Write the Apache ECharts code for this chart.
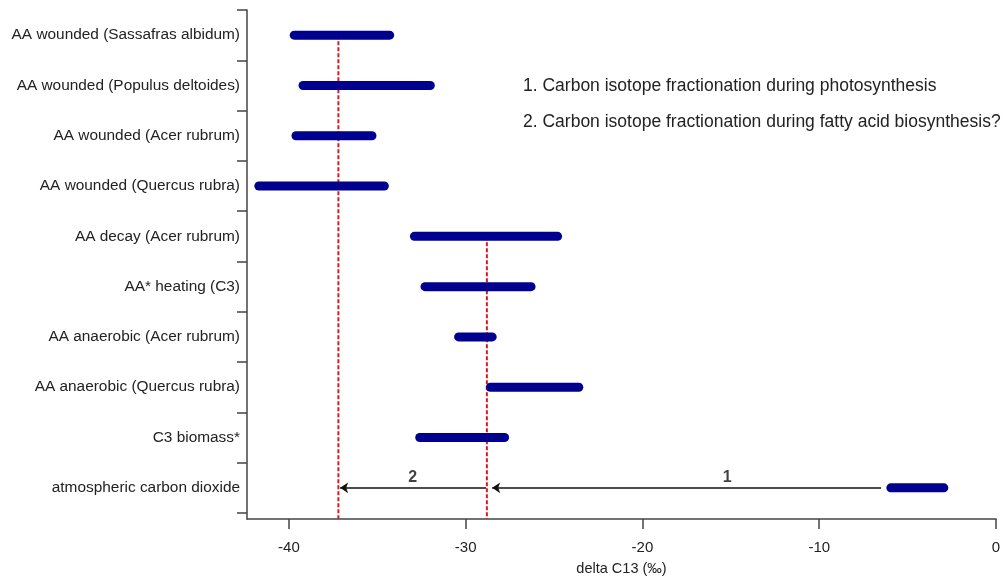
<!DOCTYPE html>
<html>
<head>
<meta charset="utf-8">
<script src="https://cdn.jsdelivr.net/npm/echarts@6/dist/echarts.min.js"></script>
<style>
  html, body { margin: 0; padding: 0; background: #fff; }
  #chart { width: 1008px; height: 581px; }
</style>
</head>
<body>
<div id="chart"></div>
<script>
// rows, top to bottom
const categories = [
  'AA wounded (Sassafras albidum)',
  'AA wounded (Populus deltoides)',
  'AA wounded (Acer rubrum)',
  'AA wounded (Quercus rubra)',
  'AA decay (Acer rubrum)',
  'AA* heating (C3)',
  'AA anaerobic (Acer rubrum)',
  'AA anaerobic (Quercus rubra)',
  'C3 biomass*',
  'atmospheric carbon dioxide'
]
// delta C13 range of each row
const rangeLow = [-39.7, -39.2, -39.6, -41.7, -32.9, -32.3, -30.4, -28.6, -32.6, -5.95]
const rangeHigh = [-34.3, -32.0, -35.3, -34.6, -24.8, -26.3, -28.5, -23.6, -27.8, -2.95]

// red dashed reference values and the row each one starts at
const refValues = [-37.2, -28.8]
const refStartRow = [0, 4]

// arrows along the bottom row: [from, to]
const arrowFrom = [-6.5, -28.85]
const arrowTo = [-28.5, -37.1]
const arrowNames = ['1', '2']
const arrowLabelX = [-15.2, -33.0]

const xTicks = [-40, -30, -20, -10, 0]
const notes = [
  '1. Carbon isotope fractionation during photosynthesis',
  '2. Carbon isotope fractionation during fatty acid biosynthesis?'
]

const font = 'Liberation Sans, Arial, sans-serif'
const rowPos = i => i + 0.5
const yMax = 10.12

const chart = echarts.init(document.getElementById('chart'))

const option = {
  animation: false,
  grid: { left: 247, right: 12, top: 10, bottom: 61 },
  xAxis: {
    type: 'value',
    position: 'bottom',
    min: -42.37,
    max: 0,
    name: 'delta C13 (‰)',
    nameLocation: 'middle',
    nameGap: 42,
    nameTextStyle: { fontFamily: font, fontSize: 14.5, color: '#222' },
    axisLine: { show: true, onZero: false, lineStyle: { color: '#444', width: 1.5 } },
    axisTick: { show: true, length: 10, customValues: xTicks, lineStyle: { color: '#444', width: 1.5 } },
    axisLabel: { customValues: xTicks, fontFamily: font, fontSize: 15, color: '#222', margin: 21 },
    splitLine: { show: false }
  },
  yAxis: {
    type: 'value',
    position: 'left',
    inverse: true,
    min: 0,
    max: yMax,
    axisLine: { show: true, onZero: false, lineStyle: { color: '#444', width: 1.5 } },
    axisTick: {
      show: true,
      length: 10,
      customValues: categories.map((c, i) => i).concat([categories.length]),
      lineStyle: { color: '#444', width: 1.5 }
    },
    axisLabel: {
      customValues: categories.map((c, i) => rowPos(i)),
      formatter: v => categories[Math.floor(v)],
      fontFamily: font,
      fontSize: 15.4,
      color: '#222',
      margin: 7
    },
    splitLine: { show: false }
  },
  graphic: notes.map((t, i) => ({
    type: 'text',
    left: 523,
    top: 77 + i * 36,
    style: { text: t, fontFamily: font, fontSize: 17.5, fill: '#222' }
  })),
  series: [
    {
      type: 'line',
      data: [[refValues[0], rowPos(refStartRow[0])], [refValues[0], yMax]],
      symbol: 'none',
      lineStyle: { color: '#e3171f', width: 2, type: [4, 2] },
      z: 1
    },
    {
      type: 'line',
      data: [[refValues[1], rowPos(refStartRow[1])], [refValues[1], yMax]],
      symbol: 'none',
      lineStyle: { color: '#e3171f', width: 2, type: [4, 2] },
      z: 1
    },
    {
      type: 'custom',
      data: categories.map((c, i) => [rangeLow[i], rangeHigh[i], rowPos(i)]),
      encode: { x: [0, 1], y: 2 },
      renderItem: (params, api) => {
        const a = api.coord([api.value(0), api.value(2)])
        const b = api.coord([api.value(1), api.value(2)])
        return {
          type: 'line',
          shape: { x1: a[0], y1: a[1], x2: b[0], y2: b[1] },
          style: { stroke: '#00008f', lineWidth: 9, lineCap: 'round' }
        }
      },
      z: 2
    },
    {
      type: 'lines',
      coordinateSystem: 'cartesian2d',
      data: arrowFrom.map((f, i) => ({
        coords: [[f, rowPos(9)], [arrowTo[i], rowPos(9)]]
      })),
      symbol: ['none', 'arrow'],
      symbolSize: 8,
      lineStyle: { color: '#111', width: 1.5, opacity: 1 },
      z: 3
    },
    {
      type: 'scatter',
      symbolSize: 0,
      data: arrowNames.map((n, i) => ({ name: n, value: [arrowLabelX[i], 9.3] })),
      label: {
        show: true,
        position: 'inside',
        formatter: p => p.name,
        fontFamily: font,
        fontSize: 16,
        fontWeight: 'bold',
        color: '#111'
      },
      z: 4
    }
  ]
}

chart.setOption(option)
</script>
</body>
</html>
